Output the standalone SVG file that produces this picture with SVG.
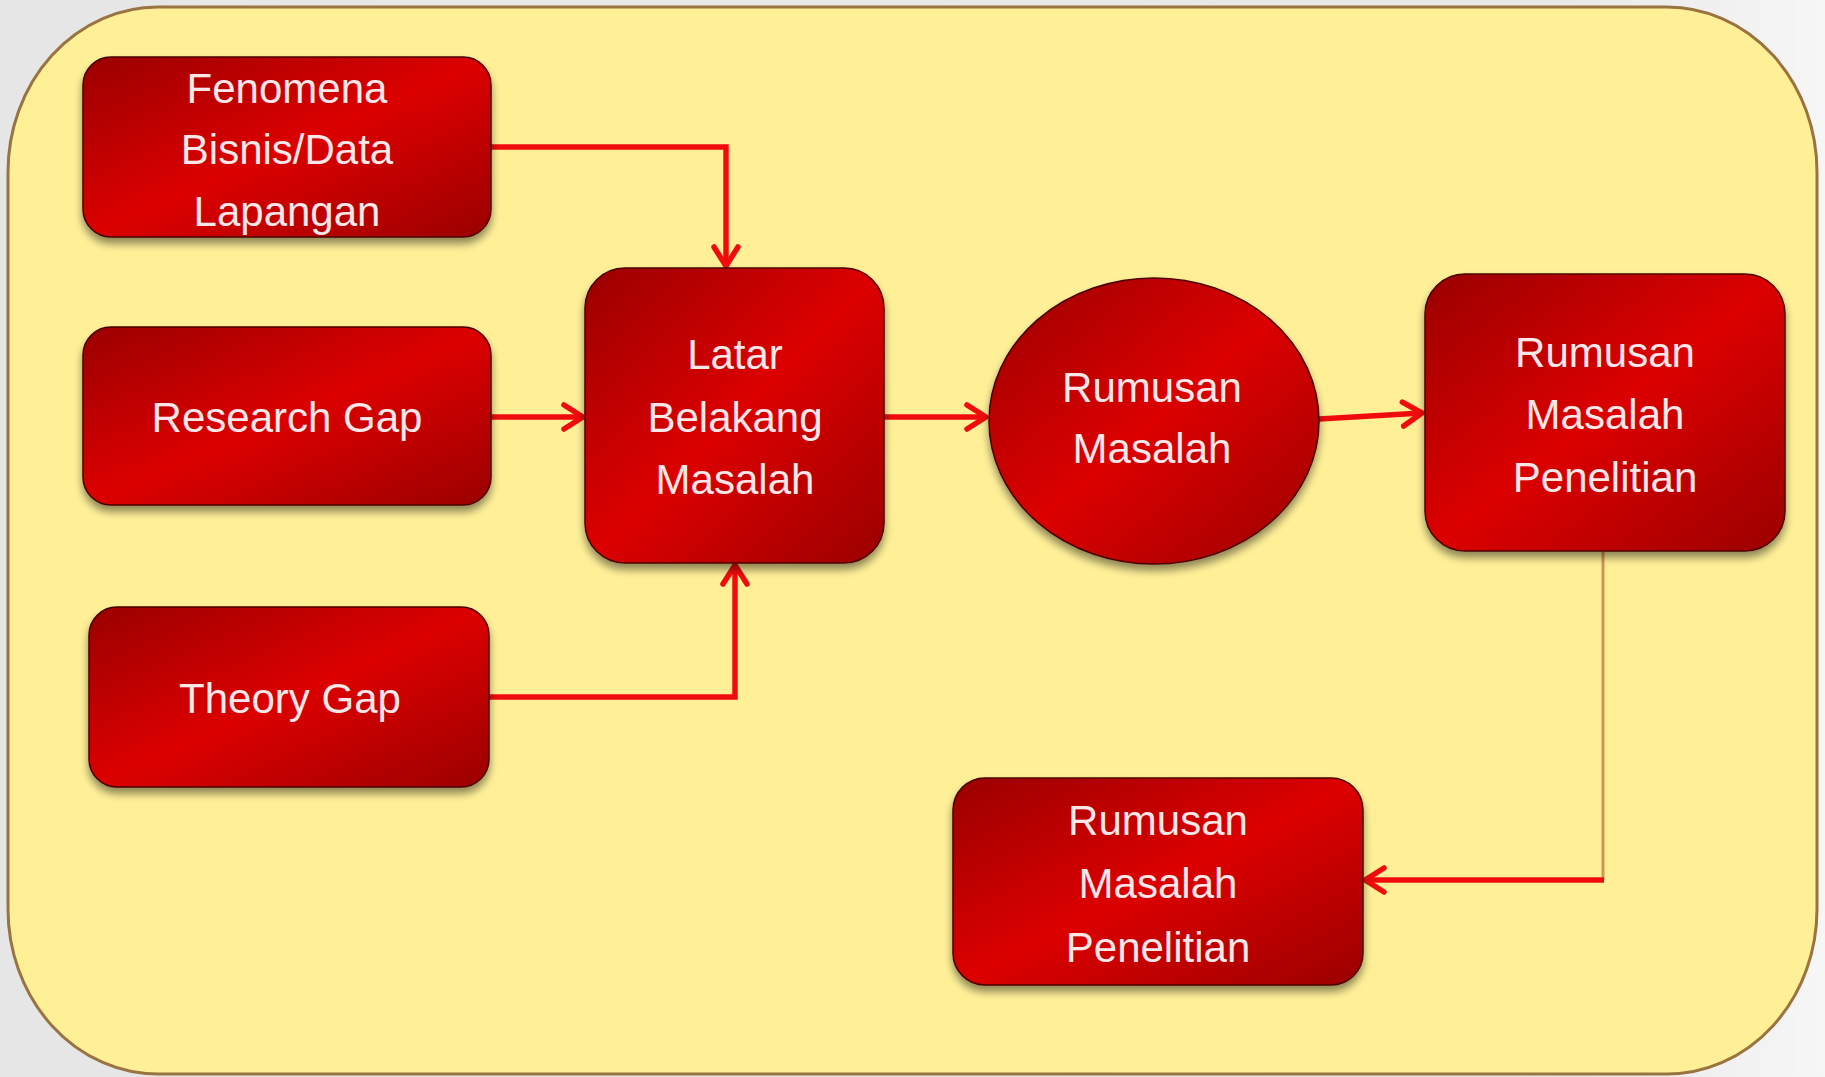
<svg xmlns="http://www.w3.org/2000/svg" width="1825" height="1077" viewBox="0 0 1825 1077">
<defs>
<linearGradient id="bg" x1="0" y1="0" x2="1" y2="0">
<stop offset="0" stop-color="#e6e6e6"/>
<stop offset="0.85" stop-color="#e8e8e8"/>
<stop offset="1" stop-color="#f6f6f6"/>
</linearGradient>
<linearGradient id="red" x1="0" y1="0" x2="1" y2="1">
<stop offset="0" stop-color="#9a0000"/>
<stop offset="0.5" stop-color="#dc0000"/>
<stop offset="1" stop-color="#9a0000"/>
</linearGradient>
<filter id="sh" x="-10%" y="-10%" width="120%" height="130%">
<feGaussianBlur in="SourceAlpha" stdDeviation="4"/>
<feOffset dy="6" result="b"/>
<feComponentTransfer><feFuncA type="linear" slope="0.45"/></feComponentTransfer>
<feMerge><feMergeNode/><feMergeNode in="SourceGraphic"/></feMerge>
</filter>
<marker id="arr" viewBox="0 0 26 32" refX="23" refY="16" markerWidth="26" markerHeight="32" markerUnits="userSpaceOnUse" orient="auto">
<path d="M4,4 L23,16 L4,28" fill="none" stroke="#f00c0c" stroke-width="5.5" stroke-linecap="round" stroke-linejoin="round"/>
</marker>
</defs>
<style>
.node{fill:url(#red);stroke:#4a0000;stroke-width:1.5;filter:url(#sh)}
.lbl{font-family:"Liberation Sans",Arial,sans-serif;font-size:42px;fill:#fbe6e8;text-anchor:middle}
.con{fill:none;stroke:#f00c0c;stroke-width:5.5;marker-end:url(#arr)}
.tan{fill:none;stroke:#d09555;stroke-width:3}
</style>
<rect x="0" y="0" width="1825" height="1077" fill="url(#bg)"/>
<rect x="8" y="7" width="1809" height="1067" rx="150" ry="165" fill="#fff098" stroke="#9a7440" stroke-width="3"/>

<g id="connectors">
<path class="con" d="M491,147 H726 V266"/>
<path class="con" d="M491,417 H583"/>
<path class="con" d="M489,697 H735 V565"/>
<path class="con" d="M884,417 H986"/>
<path class="con" d="M1319,419 L1422,413"/>
<path class="tan" d="M1603,551 V880"/>
<path class="con" d="M1604,880 H1365"/>
</g>

<g id="fenomena">
<rect class="node" x="83" y="57" width="408" height="180" rx="28"/>
<text class="lbl" x="287" y="103">Fenomena</text>
<text class="lbl" x="287" y="164">Bisnis/Data</text>
<text class="lbl" x="287" y="226">Lapangan</text>
</g>
<g id="research-gap">
<rect class="node" x="83" y="327" width="408" height="178" rx="28"/>
<text class="lbl" x="287" y="432">Research Gap</text>
</g>
<g id="theory-gap">
<rect class="node" x="89" y="607" width="400" height="180" rx="28"/>
<text class="lbl" x="290" y="713">Theory Gap</text>
</g>
<g id="latar">
<rect class="node" x="585" y="268" width="299" height="295" rx="40"/>
<text class="lbl" x="735" y="369">Latar</text>
<text class="lbl" x="735" y="432">Belakang</text>
<text class="lbl" x="735" y="494">Masalah</text>
</g>
<g id="rumusan-masalah">
<ellipse class="node" cx="1154" cy="421" rx="165" ry="143"/>
<text class="lbl" x="1152" y="402">Rumusan</text>
<text class="lbl" x="1152" y="463">Masalah</text>
</g>
<g id="rumusan-penelitian-1">
<rect class="node" x="1425" y="274" width="360" height="277" rx="40"/>
<text class="lbl" x="1605" y="367">Rumusan</text>
<text class="lbl" x="1605" y="429">Masalah</text>
<text class="lbl" x="1605" y="492">Penelitian</text>
</g>
<g id="rumusan-penelitian-2">
<rect class="node" x="953" y="778" width="410" height="207" rx="32"/>
<text class="lbl" x="1158" y="835">Rumusan</text>
<text class="lbl" x="1158" y="898">Masalah</text>
<text class="lbl" x="1158" y="962">Penelitian</text>
</g>
</svg>
